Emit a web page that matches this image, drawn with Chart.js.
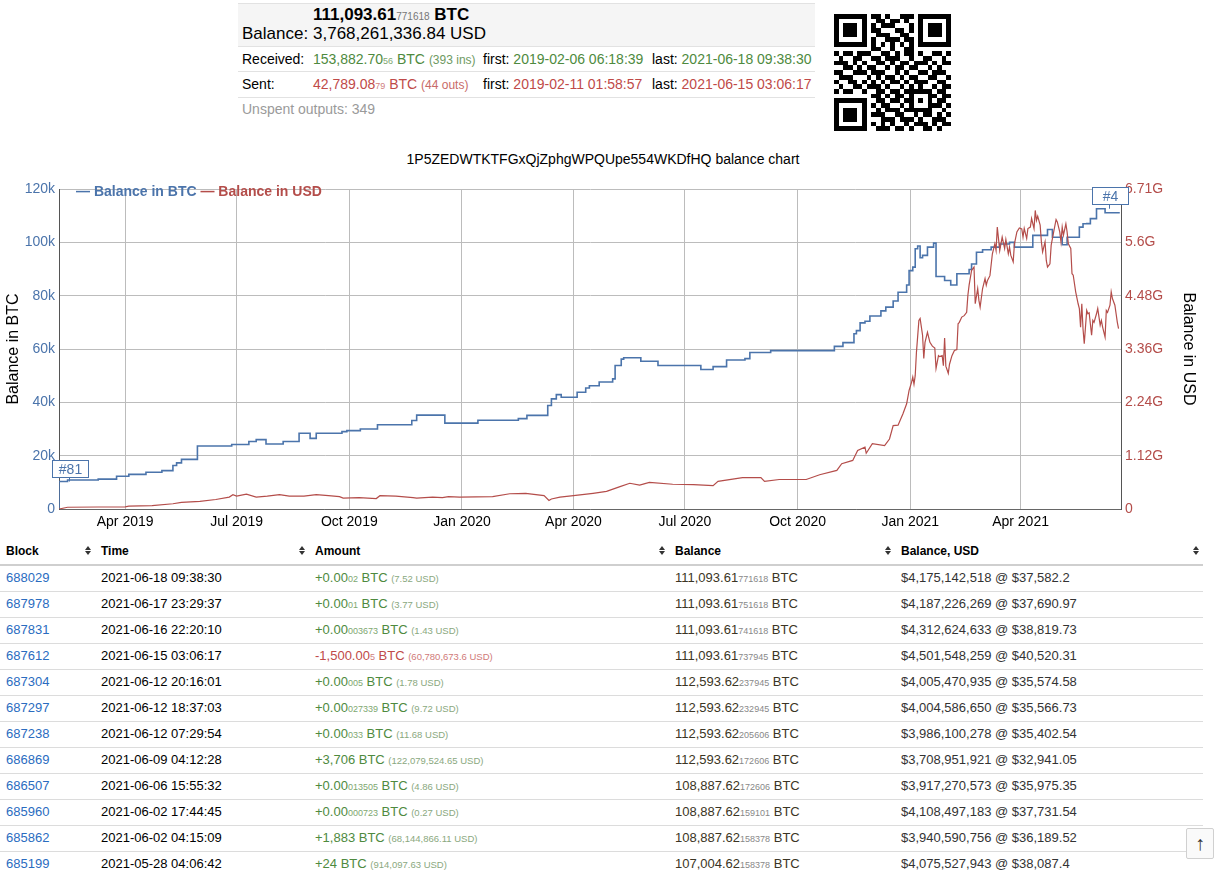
<!DOCTYPE html>
<html><head><meta charset="utf-8">
<script src="https://cdn.jsdelivr.net/npm/chart.js@4.4.1/dist/chart.umd.min.js"></script>
<style>
body{margin:0;font-family:"Liberation Sans",Arial,sans-serif;color:#000;background:#fff;width:1229px;height:877px;overflow:hidden;position:relative}
.abs{position:absolute;white-space:nowrap}
.g{color:#4e8a3e}.r{color:#c04a48}.sm{font-size:9px}
.hl{position:absolute;left:238px;width:577px;height:0;border-top:1px solid #e2e2e2}
table{position:absolute;left:0;top:540px;border-collapse:collapse;table-layout:fixed;width:1203px;font-size:13px}
th{height:25px;padding:3px 0 0 6px;line-height:16px;text-align:left;vertical-align:top;font-size:12px;font-weight:bold;border-bottom:2px solid #cfcfcf;position:relative;box-sizing:border-box}
td{height:25px;padding:0 0 0 6px;line-height:24px;border-bottom:1px solid #dcdcdc;vertical-align:top;white-space:nowrap;overflow:hidden}
.sort{position:absolute;right:3px;top:6px;width:7px;height:10px}
.sort:before,.sort:after{content:"";position:absolute;left:0;border-left:3.5px solid transparent;border-right:3.5px solid transparent}
.sort:before{top:0;border-bottom:4px solid #333}
.sort:after{top:5px;border-top:4px solid #333}
a{color:#2a6cbf;text-decoration:none}
</style></head><body>
<script>
// ---------------- data ----------------
const btcDates = ['2019-02-06','2019-02-13','2019-03-10','2019-03-25','2019-04-04','2019-04-18','2019-05-01','2019-05-10','2019-05-13','2019-05-17','2019-05-30','2019-06-27','2019-07-11','2019-07-17','2019-07-25','2019-08-08','2019-08-21','2019-08-30','2019-09-04','2019-09-25','2019-09-29','2019-10-10','2019-10-24','2019-11-21','2019-11-25','2019-12-18',
 '2020-01-14','2020-02-16','2020-02-23','2020-03-11','2020-03-14','2020-03-18','2020-03-22','2020-04-04','2020-04-11','2020-04-14','2020-04-22','2020-05-03','2020-05-05','2020-05-10','2020-05-12','2020-05-26','2020-06-09','2020-07-14','2020-07-24','2020-08-04','2020-08-19','2020-08-23','2020-09-09','2020-10-31','2020-11-07','2020-11-16','2020-11-18','2020-11-21','2020-11-25','2020-11-29','2020-12-08','2020-12-12','2020-12-18','2020-12-22','2020-12-29','2020-12-31',
 '2021-01-03','2021-01-05','2021-01-07','2021-01-09','2021-01-11','2021-01-15','2021-01-20','2021-01-22','2021-01-29','2021-02-03','2021-02-08','2021-02-18','2021-02-20','2021-02-24','2021-03-01','2021-03-08','2021-03-15','2021-03-23','2021-03-27','2021-04-11','2021-04-23','2021-04-27','2021-05-05','2021-05-09','2021-05-19','2021-05-22','2021-05-25','2021-05-28','2021-06-02','2021-06-09','2021-06-15','2021-06-21'];
const btcBalance = [0,10300,10900,11200,12300,13000,13800,14400,16300,17300,18600,23600,24200,25300,26000,24400,25300,28400,26500,28400,29000,29400,30000,31600,33200,35200,
 32200,33300,33900,35100,38800,41300,42900,41900,43800,45400,46200,47600,48800,53800,56200,56700,55400,53800,52300,53400,55900,56400,58700,59400,61000,62400,65700,66900,69800,70400,72400,74300,75700,78000,81300,84000,
 89400,90700,97600,98600,94200,95100,98200,99700,87200,85700,84000,88200,89800,91900,96300,97200,98200,99400,100000,98200,102600,104800,101900,99100,101900,105700,106980,107004,108888,112594,111094,111094];

const usdDates = ['2019-02-06','2019-02-13','2019-03-10','2019-04-01','2019-04-04','2019-04-23','2019-05-10','2019-05-17','2019-06-01','2019-06-14','2019-06-25','2019-06-28','2019-07-01','2019-07-09','2019-07-17','2019-07-26','2019-08-05','2019-08-13','2019-08-25','2019-09-04','2019-09-14','2019-09-23','2019-09-26','2019-10-09','2019-10-23','2019-10-26','2019-11-08','2019-11-22','2019-11-25','2019-12-08','2019-12-16','2019-12-21','2019-12-30',
 '2020-01-26','2020-02-09','2020-02-22','2020-03-08','2020-03-12','2020-03-14','2020-03-21','2020-04-01','2020-04-17','2020-04-28','2020-05-09','2020-05-17','2020-05-25','2020-06-02','2020-06-21','2020-07-08','2020-07-24','2020-07-28','2020-08-17','2020-09-01','2020-09-04','2020-09-16','2020-10-08','2020-10-19','2020-11-02','2020-11-06','2020-11-15','2020-11-19','2020-11-25','2020-11-26','2020-12-01','2020-12-11','2020-12-15','2020-12-18','2020-12-22','2020-12-26','2020-12-29','2020-12-31',
 '2021-01-02','2021-01-03','2021-01-04','2021-01-05','2021-01-06','2021-01-08','2021-01-09','2021-01-11','2021-01-12','2021-01-13','2021-01-15','2021-01-17','2021-01-19','2021-01-21','2021-01-22','2021-01-24','2021-01-25','2021-01-27','2021-01-28','2021-01-29','2021-01-30','2021-02-01','2021-02-02','2021-02-04','2021-02-06','2021-02-08','2021-02-09','2021-02-10','2021-02-12','2021-02-14','2021-02-16','2021-02-17','2021-02-18','2021-02-20','2021-02-22','2021-02-23','2021-02-25','2021-02-26','2021-02-27',
 '2021-03-01','2021-03-03','2021-03-04','2021-03-05','2021-03-07','2021-03-09','2021-03-11','2021-03-12','2021-03-13','2021-03-15','2021-03-17','2021-03-19','2021-03-20','2021-03-22','2021-03-23','2021-03-24','2021-03-26','2021-03-27','2021-03-29','2021-03-31',
 '2021-04-02','2021-04-03','2021-04-04','2021-04-06','2021-04-07','2021-04-09','2021-04-10','2021-04-12','2021-04-13','2021-04-14','2021-04-15','2021-04-17','2021-04-18','2021-04-19','2021-04-21','2021-04-22','2021-04-23','2021-04-25','2021-04-26','2021-04-27','2021-04-30',
 '2021-05-01','2021-05-03','2021-05-04','2021-05-05','2021-05-06','2021-05-08','2021-05-09','2021-05-10','2021-05-12','2021-05-13','2021-05-14','2021-05-16','2021-05-18','2021-05-19','2021-05-20','2021-05-21','2021-05-22','2021-05-23','2021-05-25','2021-05-26','2021-05-27','2021-05-29','2021-05-30','2021-05-31',
 '2021-06-02','2021-06-03','2021-06-05','2021-06-06','2021-06-07','2021-06-09','2021-06-10','2021-06-11','2021-06-13','2021-06-14','2021-06-15','2021-06-17','2021-06-18','2021-06-19','2021-06-20'];
const usdBalanceG = [0,0.037,0.042,0.045,0.06,0.07,0.11,0.14,0.16,0.2,0.25,0.3,0.27,0.31,0.25,0.27,0.3,0.27,0.27,0.3,0.28,0.26,0.23,0.24,0.22,0.28,0.27,0.24,0.23,0.25,0.24,0.26,0.25,
 0.26,0.32,0.33,0.28,0.18,0.21,0.25,0.28,0.33,0.37,0.47,0.54,0.5,0.56,0.52,0.51,0.49,0.58,0.66,0.66,0.58,0.62,0.62,0.72,0.81,0.95,1.02,1.23,1.3,1.17,1.37,1.33,1.47,1.75,1.76,2.0,2.21,2.49,
 2.66,2.77,2.62,2.8,3.29,3.96,4.0,3.65,3.16,3.5,3.71,3.5,3.42,3.38,2.95,3.22,3.2,3.22,3.01,3.59,3.0,2.85,3.04,3.22,3.33,3.35,3.89,3.92,4.03,4.06,4.13,4.49,4.7,5.01,5.08,4.31,4.63,4.38,4.24,
 4.63,4.84,4.7,4.8,4.9,5.36,5.57,5.43,5.92,5.43,5.71,5.47,5.66,5.36,5.5,5.33,5.19,5.57,5.82,5.9,
 5.88,5.71,5.89,5.68,5.89,5.92,6.1,5.89,6.27,6.06,6.15,5.96,5.61,5.4,5.61,5.22,5.08,5.15,5.54,5.68,6.08,
 6.03,5.82,5.61,5.92,5.75,5.99,5.82,5.57,5.47,4.94,4.91,4.56,4.31,4.21,3.82,4.31,3.78,3.47,4.17,4.1,4.12,3.65,3.96,3.92,
 4.1,4.21,3.86,3.96,3.82,3.61,4.17,4.13,4.28,4.56,4.42,4.28,4.1,3.92,3.79];

const xStartDate = '2019-02-06';
const xEndDay = 867;
const xTickDates = ['2019-04-01','2019-07-01','2019-10-01','2020-01-01','2020-04-01','2020-07-01','2020-10-01','2021-01-01','2021-04-01'];
const xTickLabels = ['Apr 2019','Jul 2019','Oct 2019','Jan 2020','Apr 2020','Jul 2020','Oct 2020','Jan 2021','Apr 2021'];
const btcTickValues = [0,20000,40000,60000,80000,100000,120000];
const btcTickLabels = ['0','20k','40k','60k','80k','100k','120k'];
const usdTickValues = [0,1.12,2.24,3.36,4.48,5.6,6.72];
const usdTickLabels = ['0','1.12G','2.24G','3.36G','4.48G','5.6G','6.71G'];
const annotationDates = ['2019-02-14','2021-06-12'];
const annotationTexts = ['#81','#4'];

const txBlock = ['688029','687978','687831','687612','687304','687297','687238','686869','686507','685960','685862','685199'];
const txTime = ['2021-06-18 09:38:30','2021-06-17 23:29:37','2021-06-16 22:20:10','2021-06-15 03:06:17','2021-06-12 20:16:01','2021-06-12 18:37:03','2021-06-12 07:29:54','2021-06-09 04:12:28','2021-06-06 15:55:32','2021-06-02 17:44:45','2021-06-02 04:15:09','2021-05-28 04:06:42'];
const txAmtMain = ['+0.00','+0.00','+0.00','-1,500.00','+0.00','+0.00','+0.00','+3,706','+0.00','+0.00','+1,883','+24'];
const txAmtSmall = ['02','01','003673','5','005','027339','033','','013505','000723','',''];
const txAmtUsd = ['7.52','3.77','1.43','60,780,673.6','1.78','9.72','11.68','122,079,524.65','4.86','0.27','68,144,866.11','914,097.63'];
const txBalMain = ['111,093.61','111,093.61','111,093.61','111,093.61','112,593.62','112,593.62','112,593.62','112,593.62','108,887.62','108,887.62','108,887.62','107,004.62'];
const txBalSmall = ['771618','751618','741618','737945','237945','232945','205606','172606','172606','159101','158378','158378'];
const txBalUsd = ['$4,175,142,518','$4,187,226,269','$4,312,624,633','$4,501,548,259','$4,005,470,935','$4,004,586,650','$3,986,100,278','$3,708,951,921','$3,917,270,573','$4,108,497,183','$3,940,590,756','$4,075,527,943'];
const txPrice = ['$37,582.2','$37,690.97','$38,819.73','$40,520.31','$35,574.58','$35,566.73','$35,402.54','$32,941.05','$35,975.35','$37,731.54','$36,189.52','$38,087.4'];
</script>

<!-- header summary -->
<div class="abs" style="left:238px;top:3px;width:577px;height:43px;background:#f5f5f5;border-top:1px solid #e2e2e2"></div>
<div class="hl" style="top:46px"></div>
<div class="hl" style="top:71px"></div>
<div class="hl" style="top:97px"></div>
<div class="abs" style="left:313px;top:5px;line-height:20px;font-size:17px;font-weight:bold">111,093.61<span style="font-size:10px;font-weight:normal;color:#777">771618</span> BTC</div>
<div class="abs" style="left:242px;top:24px;line-height:20px;font-size:17px">Balance:</div>
<div class="abs" style="left:313px;top:24px;line-height:20px;font-size:17px">3,768,261,336.84 USD</div>

<div class="abs" style="left:242px;top:50px;line-height:18px;font-size:14px">Received:</div>
<div class="abs g" style="left:313px;top:50px;line-height:18px;font-size:14px">153,882.70<span class="sm" style="color:#7ea870">56</span> BTC <span style="font-size:12px;color:#6e9a62">(393 ins)</span></div>
<div class="abs" style="left:483px;top:50px;line-height:18px;font-size:14px">first: <span class="g">2019-02-06 06:18:39</span></div>
<div class="abs" style="left:652px;top:50px;line-height:18px;font-size:14px">last: <span class="g">2021-06-18 09:38:30</span></div>

<div class="abs" style="left:242px;top:75px;line-height:18px;font-size:14px">Sent:</div>
<div class="abs r" style="left:313px;top:75px;line-height:18px;font-size:14px">42,789.08<span class="sm" style="color:#d08080">79</span> BTC <span style="font-size:12px;color:#c86a68">(44 outs)</span></div>
<div class="abs" style="left:483px;top:75px;line-height:18px;font-size:14px">first: <span class="r">2019-02-11 01:58:57</span></div>
<div class="abs" style="left:652px;top:75px;line-height:18px;font-size:14px">last: <span class="r">2021-06-15 03:06:17</span></div>

<div class="abs" style="left:242px;top:100px;line-height:18px;font-size:14px;color:#9a9a9a">Unspent outputs: 349</div>

<canvas id="qr" width="117" height="117" style="position:absolute;left:834px;top:14px"></canvas>

<!-- chart -->
<div class="abs" style="left:0;top:151px;width:1206px;text-align:center;font-size:14px;line-height:16px">1P5ZEDWTKTFGxQjZphgWPQUpe554WKDfHQ balance chart</div>
<canvas id="c" width="1229" height="400" style="position:absolute;left:0;top:140px"></canvas>
<div class="abs" style="left:76px;top:182px;font-size:14px;font-weight:bold;line-height:18px"><span style="color:#4b74ab">— Balance in BTC</span> <span style="color:#b44d4a">— Balance in USD</span></div>

<table id="tx">
<colgroup><col style="width:95px"><col style="width:214px"><col style="width:360px"><col style="width:226px"><col style="width:308px"></colgroup>
<thead><tr><th>Block<span class="sort"></span></th><th>Time<span class="sort"></span></th><th>Amount<span class="sort"></span></th><th>Balance<span class="sort"></span></th><th>Balance, USD<span class="sort"></span></th></tr></thead>
<tbody id="tb"></tbody>
</table>

<div class="abs" style="left:1186px;top:828px;width:26px;height:29px;border:1px solid #d0d0d0;border-radius:2px;background:#fafafa;text-align:center;line-height:29px;font-size:20px;color:#333">↑</div>

<script>
// QR-like code picture (decorative)
const qrRows = [
'1111111011010011101111111','1000001001101101001000001','1011101010111000101011101','1011101011000110101011101','1011101001110011001011101','1000001010011101101000001','1111111010101010101111111','0000000011001001100000000',
'1011011100110101101001101','0100110011011100100110010','1110101001101011011101011','0011010110010110110010100','1100111011100101001101110','0111000101011010110011001','1001101010101101011100110','0100110111010010101001011',
'1011001001101101111110110','0000000011010110100011011','1111111001101101101010110','1000001010110010100011101','1011101001011101111110010','1011101011100110010110101','1011101000111011101001110','1000001010101001011101011','1111111001110110100110100'];
(function(){const q=document.getElementById('qr').getContext('2d');const m=117/25;q.fillStyle='#fff';q.fillRect(0,0,117,117);q.fillStyle='#000';
qrRows.forEach((row,r)=>{for(let c=0;c<row.length;c++){if(row[c]==='1'){const x0=Math.round(c*m),y0=Math.round(r*m);q.fillRect(x0,y0,Math.round((c+1)*m)-x0,Math.round((r+1)*m)-y0);}}});})();

// table
(function(){const tb=document.getElementById('tb');let h='';
for(let i=0;i<txBlock.length;i++){
 const neg=txAmtMain[i][0]==='-';
 const col=neg?'#c04a48':'#4e8a3e', scol=neg?'#d08080':'#7ea870', ucol=neg?'#d07a78':'#8aa87e';
 h+='<tr><td><a>'+txBlock[i]+'</a></td><td>'+txTime[i]+'</td>'+
 '<td style="color:'+col+'">'+txAmtMain[i]+'<span class="sm" style="color:'+scol+'">'+txAmtSmall[i]+'</span> BTC <span style="font-size:9.5px;color:'+ucol+'">('+txAmtUsd[i]+' USD)</span></td>'+
 '<td style="color:#3b3524">'+txBalMain[i]+'<span class="sm" style="color:#888">'+txBalSmall[i]+'</span> BTC</td>'+
 '<td style="color:#333">'+txBalUsd[i]+' @ '+txPrice[i]+'</td></tr>';}
tb.innerHTML=h;})();

// chart
const DAY=86400000, START=Date.parse(xStartDate+'T00:00:00Z');
const dayOf=s=>(Date.parse(s+'T00:00:00Z')-START)/DAY;
const BLUE='#4b74ab', RED='#b44d4a';
const btcPts=btcDates.map((d,i)=>({x:dayOf(d),y:btcBalance[i]}));
const usdPts=usdDates.map((d,i)=>({x:dayOf(d),y:usdBalanceG[i]}));
function btcAt(day){let v=0;for(const p of btcPts){if(p.x<=day)v=p.y;}return v;}

Chart.defaults.font.family='"Liberation Sans", Arial, sans-serif';
const annotPlugin={id:'annot',afterDraw(chart){
 const {ctx,scales}=chart;const x=scales.x,y=scales.yBtc;ctx.save();
 annotationDates.forEach((ds,i)=>{
  const d=dayOf(ds),v=btcAt(d);
  const px=Math.round(x.getPixelForValue(d)),py=y.getPixelForValue(v);
  const w=36,h=17,bx=px-17,by=Math.round(py-5-h);
  ctx.fillStyle='#fff';ctx.fillRect(bx,by,w,h);
  ctx.strokeStyle=BLUE;ctx.lineWidth=1;ctx.strokeRect(bx+.5,by+.5,w,h);
  ctx.beginPath();ctx.moveTo(px+.5,by+h+1);ctx.lineTo(px+.5,py);ctx.stroke();
  ctx.fillStyle=BLUE;ctx.font='14px "Liberation Sans", Arial, sans-serif';ctx.textAlign='center';ctx.textBaseline='middle';
  ctx.fillText(annotationTexts[i],bx+w/2+0.5,by+h/2+1.5);
 });ctx.restore();}};

new Chart(document.getElementById('c'),{
 type:'line',
 data:{datasets:[
  {label:'Balance in USD',data:usdPts,yAxisID:'yUsd',borderColor:RED,borderWidth:1.2,pointRadius:0,tension:0,fill:false},
  {label:'Balance in BTC',data:btcPts,yAxisID:'yBtc',stepped:'after',borderColor:BLUE,borderWidth:1.6,pointRadius:0,fill:false}
 ]},
 options:{
  responsive:false,animation:false,
  layout:{padding:{top:49,right:27,left:0,bottom:0}},
  plugins:{legend:{display:false},tooltip:{enabled:false},title:{display:false}},
  scales:{
   x:{type:'linear',min:0,max:xEndDay,
    afterBuildTicks:s=>{s.ticks=xTickDates.map(d=>({value:dayOf(d)}));},
    afterFit:s=>{s.height=31;},
    ticks:{autoSkip:false,maxRotation:0,padding:5,color:'#000',font:{size:14},callback:(v,i)=>xTickLabels[i]},
    grid:{color:'#bcbcbc',drawTicks:false},border:{color:'#666'}},
   yBtc:{position:'left',min:0,max:120000,
    afterBuildTicks:s=>{s.ticks=btcTickValues.map(v=>({value:v}));},
    afterFit:s=>{s.width=59;},
    ticks:{padding:4,color:BLUE,font:{size:14},callback:(v,i)=>btcTickLabels[i]},
    title:{display:true,text:'Balance in BTC',color:'#000',font:{size:16}},
    grid:{color:'#bcbcbc',drawTicks:false},border:{color:'#555'}},
   yUsd:{position:'right',min:0,max:6.72,
    afterBuildTicks:s=>{s.ticks=usdTickValues.map(v=>({value:v}));},
    afterFit:s=>{s.width=81;},
    ticks:{padding:4,color:RED,font:{size:14},callback:(v,i)=>usdTickLabels[i]},
    title:{display:true,text:'Balance in USD',color:'#000',font:{size:16}},
    grid:{drawOnChartArea:false,drawTicks:false},border:{color:'#555'}}
  }
 },
 plugins:[annotPlugin]
});
</script>
</body></html>
